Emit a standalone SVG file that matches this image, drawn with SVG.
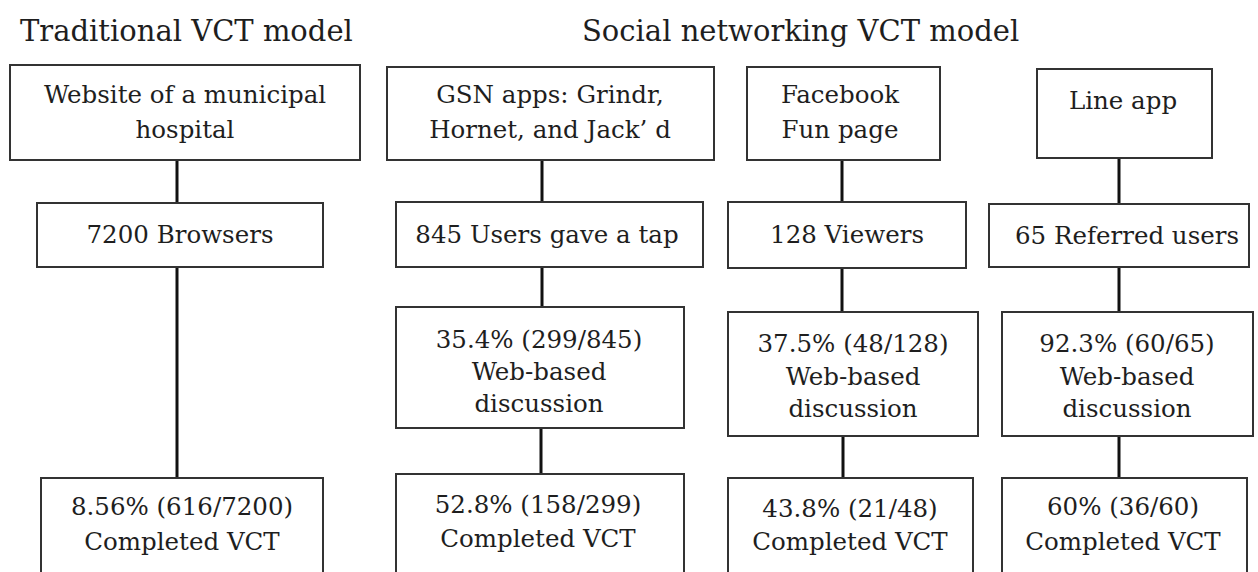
<svg xmlns="http://www.w3.org/2000/svg" width="1258" height="572" viewBox="0 0 1258 572">
<style>
.bx{fill:#fff;stroke:#333;stroke-width:2}
.t{font-family:"DejaVu Serif","Liberation Serif",serif;font-size:24.5px;fill:#1e1e1e;text-anchor:middle}
.h{font-family:"DejaVu Serif","Liberation Serif",serif;font-size:29px;fill:#1e1e1e}
.c{stroke:#111;stroke-width:3;fill:none}
</style>
<rect width="1258" height="572" fill="#fff"/>
<text class="h" x="20" y="41">Traditional VCT model</text>
<text class="h" x="582" y="41">Social networking VCT model</text>
<g id="connectors">
<path class="c" d="M177 160V203M177 267V478" stroke-width="3.5"/>
<path class="c" d="M542 160V202M542 267V307M541 428V474"/>
<path class="c" d="M842 160V202M842 268V312M843 436V478"/>
<path class="c" d="M1119 158V204M1119 267V312M1119 436V478"/>
</g>
<g id="n1"><rect class="bx" x="10" y="65" width="350" height="95"/><text class="t" x="185" y="103">Website of a municipal</text><text class="t" x="185" y="138">hospital</text></g>
<g id="n2"><rect class="bx" x="387" y="67" width="327" height="93"/><text class="t" x="550" y="103">GSN apps: Grindr,</text><text class="t" x="550" y="138">Hornet, and Jack’ d</text></g>
<g id="n3"><rect class="bx" x="747" y="67" width="193" height="93"/><text class="t" x="840" y="103">Facebook</text><text class="t" x="840" y="138">Fun page</text></g>
<g id="n4"><rect class="bx" x="1037" y="69" width="175" height="89"/><text class="t" x="1123" y="109">Line app</text></g>
<g id="n5"><rect class="bx" x="37" y="203" width="286" height="64"/><text class="t" x="180" y="243">7200 Browsers</text></g>
<g id="n6"><rect class="bx" x="396" y="202" width="307" height="65"/><text class="t" x="547" y="243">845 Users gave a tap</text></g>
<g id="n7"><rect class="bx" x="728" y="202" width="238" height="66"/><text class="t" x="847" y="243">128 Viewers</text></g>
<g id="n8"><rect class="bx" x="989" y="204" width="260" height="63"/><text class="t" x="1127" y="244">65 Referred users</text></g>
<g id="n9"><rect class="bx" x="396" y="307" width="288" height="121"/><text class="t" x="539" y="348">35.4% (299/845)</text><text class="t" x="539" y="380">Web-based</text><text class="t" x="539" y="412">discussion</text></g>
<g id="n10"><rect class="bx" x="728" y="312" width="250" height="124"/><text class="t" x="853" y="352">37.5% (48/128)</text><text class="t" x="853" y="385">Web-based</text><text class="t" x="853" y="417">discussion</text></g>
<g id="n11"><rect class="bx" x="1002" y="312" width="251" height="124"/><text class="t" x="1127" y="352">92.3% (60/65)</text><text class="t" x="1127" y="385">Web-based</text><text class="t" x="1127" y="417">discussion</text></g>
<g id="n12"><rect class="bx" x="41" y="478" width="282" height="110"/><text class="t" x="182" y="515">8.56% (616/7200)</text><text class="t" x="182" y="550">Completed VCT</text></g>
<g id="n13"><rect class="bx" x="396" y="474" width="288" height="114"/><text class="t" x="538" y="513">52.8% (158/299)</text><text class="t" x="538" y="547">Completed VCT</text></g>
<g id="n14"><rect class="bx" x="728" y="478" width="245" height="110"/><text class="t" x="850" y="517">43.8% (21/48)</text><text class="t" x="850" y="550">Completed VCT</text></g>
<g id="n15"><rect class="bx" x="1002" y="478" width="245" height="110"/><text class="t" x="1123" y="515">60% (36/60)</text><text class="t" x="1123" y="550">Completed VCT</text></g>
</svg>
